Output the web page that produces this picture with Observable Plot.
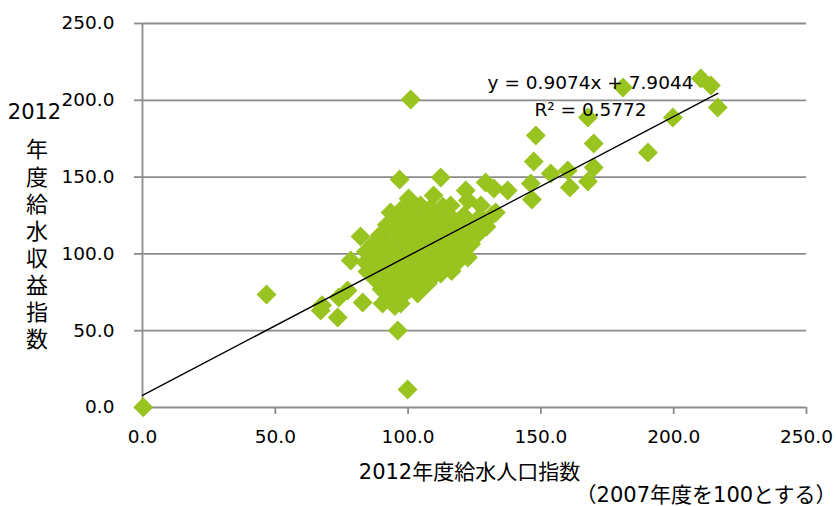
<!DOCTYPE html>
<html>
<head>
<meta charset="utf-8">
<script src="https://cdn.jsdelivr.net/npm/d3@7"></script>
<script src="https://cdn.jsdelivr.net/npm/@observablehq/plot@0.6"></script>
<style>
  html, body { margin: 0; padding: 0; background: #fff; }
</style>
</head>
<body>
<div id="chart"></div>
<script>
// 2012年度給水人口指数 (x) と 2012年度給水収益指数 (y)、2007年度 = 100
const popIndex = [
  // 外れ値・散在する事業体
  0.3, 46.7, 67.1, 67.6, 73.5, 73.9, 77.2, 78.4, 82.1, 82.9, 90.4, 96.1, 99.8,
  101.0, 96.8, 112.3, 100.2, 93.4, 109.6, 121.7, 122.5, 116.0, 104.7, 129.2, 132.3, 137.5, 127.4, 133.0,
  122.5, 122.5, 117.2, 112.3, 107.4, 103.6, 97.2,
  146.6, 146.2, 147.3, 148.1, 153.7, 160.1, 160.9, 167.7, 169.9, 169.9, 167.7, 190.3, 199.7, 180.9, 210.2, 214.0, 216.6,
  // 100前後に集中する事業体
  97.9, 102.6, 108.4, 113.1,
  95.3, 100.0, 105.8, 110.5, 116.4, 121.0, 126.9, 131.6,
  92.0, 97.9, 102.6, 108.4, 113.1, 119.0, 123.7, 129.5,
  89.4, 95.3, 100.5, 105.2, 111.1, 115.8, 121.6, 126.3,
  87.4, 92.0, 97.9, 102.6, 108.4, 113.1, 119.0, 123.7,
  84.1, 90.0, 94.7, 100.5, 105.2, 111.1, 115.8, 121.0,
  84.0, 87.4, 92.0, 97.9, 102.6, 108.4, 113.1, 119.0,
  84.7, 89.4, 95.3, 100.0, 105.8, 110.5, 116.4,
  87.4, 92.0, 97.9, 102.6, 108.4,
  90.0, 94.7, 100.5, 105.2,
  92.3, 97.6,
  95.0
];

const revenueIndex = [
  0.2, 73.6, 63.2, 66.5, 58.6, 71.6, 76.2, 95.7, 111.3, 68.4, 67.7, 50.1, 11.7,
  200.5, 148.4, 149.7, 136.1, 127.0, 138.0, 141.3, 134.8, 131.5, 131.5, 146.5, 142.6, 141.3, 131.5, 127.0,
  110.7, 97.7, 93.8, 87.2, 80.7, 74.2, 67.7,
  135.4, 145.8, 160.2, 177.1, 152.3, 154.3, 143.2, 147.1, 156.2, 171.9, 188.8, 166.0, 188.8, 208.3, 214.2, 209.6, 195.3,
  129.6, 131.0, 129.8, 130.7,
  123.8, 125.0, 124.1, 124.9, 123.6, 124.8, 123.9, 125.2,
  118.9, 117.7, 119.2, 118.1, 119.0, 117.9, 118.8, 117.6,
  112.1, 113.2, 112.0, 113.1, 112.4, 113.3, 112.2, 113.0,
  107.3, 106.1, 107.2, 106.3, 107.4, 106.2, 107.1, 106.5,
  101.4, 100.3, 101.6, 100.2, 101.3, 100.6, 101.5, 100.4,
  94.6, 95.7, 94.5, 95.6, 94.4, 95.5, 94.8, 95.3,
  88.6, 89.8, 88.7, 89.6, 88.9, 89.7, 88.8,
  83.8, 82.7, 83.6, 82.9, 83.5,
  77.0, 78.1, 77.2, 77.9,
  71.2, 72.2,
  66.1
];

// 線形近似（Excel の近似曲線）
const slope = 0.9074;
const intercept = 7.9044;
const rSquared = 0.5772;

const xTicks = [0, 50, 100, 150, 200, 250];
const yTicks = [0, 50, 100, 150, 200, 250];

const xLabel = "2012年度給水人口指数";
const xNote = "（2007年度を100とする）";
const yLabelYear = "2012";
const yLabelRest = "年度給水収益指数";

const points = popIndex.map((x, i) => ({x, y: revenueIndex[i]}));
const xMax = d3.max(popIndex);
const trend = [0, xMax].map(x => ({x, y: slope * x + intercept}));

const fmt = d3.format(".1f");
const gray = "#8c8c8c";
const green = "#99c31f";

const chart = Plot.plot({
  width: 836,
  height: 506,
  marginLeft: 142,
  marginRight: 30,
  marginTop: 23,
  marginBottom: 99,
  style: {
    fontFamily: "'DejaVu Sans', 'Noto Sans CJK JP', sans-serif",
    fontSize: "18.5px",
    color: "#000",
    background: "#fff",
    overflow: "visible"
  },
  x: {domain: [0, 250]},
  y: {domain: [0, 250]},
  marks: [
    Plot.ruleY(yTicks.filter(t => t > 0), {stroke: gray, strokeWidth: 1.8}),
    Plot.axisY({ticks: yTicks, tickFormat: fmt, tickSize: 8, tickPadding: 20, stroke: gray, strokeWidth: 1.8, fill: "#000", label: null}),
    Plot.axisX({ticks: xTicks, tickFormat: fmt, tickSize: 7, tickPadding: 15, stroke: gray, strokeWidth: 1.8, fill: "#000", label: null}),
    Plot.ruleX([0], {stroke: gray, strokeWidth: 1.8}),
    Plot.ruleY([0], {stroke: gray, strokeWidth: 1.8}),
    Plot.dot(points, {x: "x", y: "y", symbol: "diamond2", r: 9, fill: green, stroke: "none"}),
    Plot.line(trend, {x: "x", y: "y", stroke: "#000", strokeWidth: 1.4}),
    Plot.text([`y = ${slope}x + ${intercept}`], {text: d => d, frameAnchor: "top-left", dx: 448, dy: 60, textAnchor: "middle", lineAnchor: "middle", fontSize: 18.5}),
    Plot.text([`R² = ${rSquared}`], {text: d => d, frameAnchor: "top-left", dx: 448, dy: 87, textAnchor: "middle", lineAnchor: "middle", fontSize: 18.5}),
    Plot.text([yLabelYear], {text: d => d, frameAnchor: "top-left", dx: -108, dy: 89, textAnchor: "middle", lineAnchor: "middle", fontSize: 21}),
    Plot.text([yLabelRest.split("").join("\n")], {text: d => d, frameAnchor: "top-left", dx: -105.5, dy: 220, textAnchor: "middle", lineAnchor: "middle", fontSize: 22, lineHeight: 1.23}),
    Plot.text([xLabel], {text: d => d, frameAnchor: "bottom", dx: -5, dy: 65, textAnchor: "middle", lineAnchor: "middle", fontSize: 21, ariaLabel: "x-label"}),
    Plot.text([xNote], {text: d => d, frameAnchor: "bottom-right", dx: 30, dy: 88, textAnchor: "end", lineAnchor: "middle", fontSize: 21, ariaLabel: "x-note"})
  ]
});

d3.select(chart).selectAll("g[aria-label='x-label'] text").style("letter-spacing", "1px");
d3.select(chart).selectAll("g[aria-label='x-note'] text").style("letter-spacing", "0.5px");

document.getElementById("chart").appendChild(chart);
</script>
</body>
</html>
